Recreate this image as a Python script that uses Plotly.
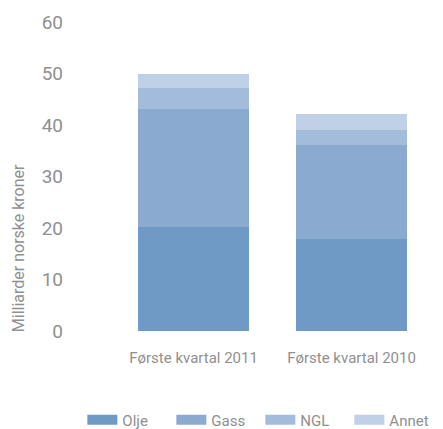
import plotly.graph_objects as go

categories = ["Første kvartal 2011", "Første kvartal 2010"]
series_names = ["Olje", "Gass", "NGL", "Annet"]
olje = [20.1, 17.9]
gass = [23.1, 18.3]
ngl = [4.0, 2.9]
annet = [2.8, 3.1]
y_ticks = [0, 10, 20, 30, 40, 50, 60]

colors = ["#709AC6", "#8BAAD0", "#A3BCDB", "#C0D0E7"]
values = [olje, gass, ngl, annet]
txt = "#909090"
font = "Roboto, DejaVu Sans, sans-serif"

fig = go.Figure()
for name, vals, c in zip(series_names, values, colors):
    fig.add_trace(go.Bar(x=categories, y=vals, name=name, marker=dict(color=c, line=dict(width=0)),
                         showlegend=False))
for name, c in zip(series_names, colors):
    fig.add_trace(go.Scatter(x=[None], y=[None], mode="lines", name=name,
                             line=dict(color=c, width=11), showlegend=True))

# page body has an 8px margin; figure is sized to fit the 443x429 window
fig.update_layout(
    width=435, height=421,
    barmode="stack", bargap=0.30,
    plot_bgcolor="white", paper_bgcolor="white",
    margin=dict(l=56, r=12, t=14, b=97.5, autoexpand=False),
    font=dict(family=font, color=txt),
    xaxis=dict(range=[-0.82, 1.503], showgrid=False, zeroline=False, showline=False, automargin=False,
               ticks="", tickfont=dict(size=15, color=txt), ticklabelstandoff=16),
    yaxis=dict(range=[0, 60], tickvals=y_ticks, showgrid=False, zeroline=False, showline=False,
               automargin=False, ticks="", tickfont=dict(size=19, color=txt)),
    legend=dict(orientation="h", traceorder="normal", x=0.05, xanchor="left",
                yref="container", y=9/421, yanchor="middle", entrywidth=44,
                font=dict(size=15, color=txt), itemwidth=30, tracegroupgap=0),
    annotations=[dict(text="Milliarder norske kroner", textangle=-90, xref="paper", yref="paper",
                      x=-0.125, y=-0.01, xanchor="center", yanchor="bottom", showarrow=False,
                      font=dict(size=16, color=txt))],
)
fig.write_html("out.html")
